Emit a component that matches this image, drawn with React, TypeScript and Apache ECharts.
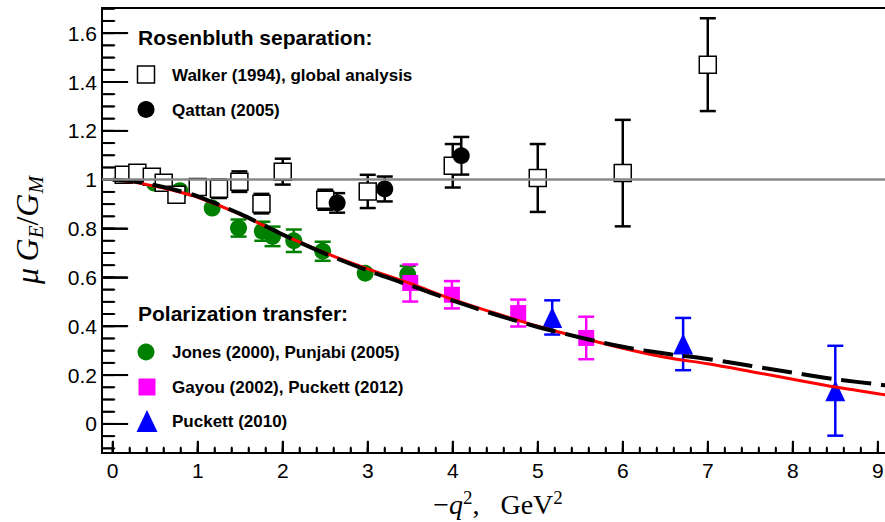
import React, { useEffect, useRef } from "react";
import * as echarts from "echarts";

// ---- axis ranges & ticks ----
const X_MIN = -0.126;
const X_MAX = 9.12;
const Y_MIN = -0.119;
const Y_MAX = 1.703;

const xMajorTicks = [0, 1, 2, 3, 4, 5, 6, 7, 8, 9];
const yMajorTicks = [0, 0.2, 0.4, 0.6, 0.8, 1, 1.2, 1.4, 1.6];
const xMinorTicks: number[] = [];
for (let i = 0; i <= 45; i++) xMinorTicks.push(+(i * 0.2).toFixed(2));
const yMinorTicks: number[] = [];
for (let i = -2; i <= 34; i++) yMinorTicks.push(+(i * 0.05).toFixed(2));

// ---- Rosenbluth separation ----
const walkerX = [0.13, 0.29, 0.46, 0.6, 0.75, 1.0, 1.25, 1.49, 1.75, 2.0, 2.5, 3.0, 4.0, 5.0, 6.0, 7.0];
const walkerY = [1.02, 1.028, 1.012, 0.987, 0.938, 0.97, 0.963, 0.992, 0.902, 1.033, 0.918, 0.952, 1.057, 1.007, 1.027, 1.471];
const walkerErr = [0, 0, 0, 0, 0, 0, 0.038, 0.042, 0.04, 0.053, 0.041, 0.068, 0.089, 0.139, 0.218, 0.19];

const qattanX = [2.64, 3.2, 4.1];
const qattanY = [0.905, 0.962, 1.098];
const qattanErr = [0.04, 0.051, 0.077];

// ---- Polarization transfer ----
const jonesX = [0.49, 0.79, 1.17, 1.48, 1.76, 1.88, 2.13, 2.47, 2.97, 3.47];
const jonesY = [0.986, 0.955, 0.884, 0.802, 0.789, 0.768, 0.75, 0.707, 0.617, 0.612];
const jonesErr = [0, 0, 0, 0.035, 0.039, 0.04, 0.046, 0.039, 0, 0.035];

const gayouX = [3.5, 3.99, 4.77, 5.57];
const gayouY = [0.577, 0.529, 0.454, 0.352];
const gayouErr = [0.076, 0.056, 0.055, 0.087];

const puckettX = [5.17, 6.71, 8.5];
const puckettY = [0.436, 0.327, 0.136];
const puckettErr = [0.07, 0.107, 0.184];

// ---- model curves ----
const curveX = [0, 0.25, 0.5, 0.75, 1, 1.5, 2, 2.5, 3, 3.5, 4, 4.5, 5, 5.5, 6, 6.5, 7, 7.5, 8, 8.5, 9, 9.12];
const redY = [1.0, 0.99, 0.973, 0.953, 0.928, 0.858, 0.775, 0.7, 0.635, 0.575, 0.51, 0.453, 0.4, 0.354, 0.31, 0.273, 0.246, 0.215, 0.183, 0.151, 0.124, 0.117];
const dashY = [1.0, 0.993, 0.977, 0.957, 0.932, 0.86, 0.775, 0.697, 0.628, 0.567, 0.505, 0.448, 0.397, 0.354, 0.316, 0.288, 0.266, 0.238, 0.21, 0.183, 0.162, 0.157];

const GREEN = "#008000";
const MAGENTA = "#ff00ff";
const BLUE = "#0000ff";
const SANS = '"Liberation Sans", Arial, sans-serif';
const SERIF = '"Liberation Serif", "DejaVu Serif", serif';

// anchors a hair inside the frame so no tick item sits on the axis extent itself
const X_EDGE = X_MIN + 0.002;
const Y_EDGE = Y_MIN + 0.001;

function zip3(xs: number[], ys: number[], es: number[]) {
  return xs.map((x, i) => [x, ys[i], es[i]]);
}

function errSeries(xs: number[], ys: number[], es: number[], color: string) {
  return {
    type: "custom",
    silent: true,
    clip: true,
    data: zip3(xs, ys, es),
    renderItem: (_params: any, api: any) => {
      const x = api.value(0);
      const y = api.value(1);
      const e = api.value(2);
      if (!e) return null;
      const top = api.coord([x, y + e]);
      const bot = api.coord([x, y - e]);
      const c = 8;
      const st = { stroke: color, lineWidth: 2.5 };
      return {
        type: "group",
        children: [
          { type: "line", shape: { x1: top[0], y1: top[1], x2: bot[0], y2: bot[1] }, style: st },
          { type: "line", shape: { x1: top[0] - c, y1: top[1], x2: top[0] + c, y2: top[1] }, style: st },
          { type: "line", shape: { x1: bot[0] - c, y1: bot[1], x2: bot[0] + c, y2: bot[1] }, style: st },
        ],
      };
    },
  };
}

// ticks as a custom series built like the error bars: [x, y, length, horizontal?]
function tickSeries(values: number[], horiz: boolean, len: number) {
  return {
    type: "custom",
    silent: true,
    clip: true,
    data: values.map((v) => (horiz ? [X_EDGE, v, len, 1] : [v, Y_EDGE, len, 0])),
    renderItem: (_params: any, api: any) => {
      const p = api.coord([api.value(0), api.value(1)]);
      const l = api.value(2);
      const h = api.value(3) === 1;
      const st = { stroke: "#000", lineWidth: 2 };
      return {
        type: "group",
        children: [
          h
            ? { type: "line", shape: { x1: p[0] - 1, y1: p[1], x2: p[0] - 1 + l, y2: p[1] }, style: st }
            : { type: "line", shape: { x1: p[0], y1: p[1] + 1, x2: p[0], y2: p[1] + 1 - l }, style: st },
        ],
      };
    },
  };
}

// ticks as thin rect symbols, offset so they start at the frame
function tickScatter(values: number[], horiz: boolean, len: number) {
  return {
    type: "scatter",
    silent: true,
    clip: false,
    data: values.map((v) => (horiz ? [X_EDGE, v] : [v, Y_EDGE])),
    symbol: "rect",
    symbolSize: horiz ? [len, 1.6] : [1.6, len],
    symbolOffset: horiz ? [len / 2, 0] : [0, -len / 2],
    itemStyle: { color: "#000", opacity: 1 },
  };
}

function scatter(xs: number[], ys: number[], symbol: string, size: any, itemStyle: any) {
  return {
    type: "scatter",
    data: xs.map((x, i) => [x, ys[i]]),
    symbol,
    symbolSize: size,
    itemStyle: { opacity: 1, ...itemStyle },
    silent: true,
  };
}

export default function App() {
  const ref = useRef<HTMLDivElement>(null);
  useEffect(() => {
    document.body.style.margin = "0";
    if (!ref.current) return;
    const chart = echarts.init(ref.current, null, { renderer: "svg" });

    const legendText = (text: string, x: number, y: number, size: number) => ({
      type: "text",
      x,
      y,
      style: {
        text,
        font: `bold ${size}px ${SANS}`,
        fill: "#000",
        textVerticalAlign: "middle",
      },
    });

    const tickLine = { color: "#000", width: 1.6 };

    const option: any = {
      animation: false,
      backgroundColor: "#fff",
      grid: {
        left: 102,
        top: 8,
        right: -3,
        bottom: 69,
        show: true,
        borderColor: "#000",
        borderWidth: 2,
        containLabel: false,
        outerBoundsMode: "none",
      },
      xAxis: {
        type: "value",
        min: X_MIN,
        max: X_MAX,
        position: "bottom",
        axisLine: { show: true, onZero: false, lineStyle: { color: "#000", width: 2 } },
        axisTick: { show: true, inside: true, length: 12, lineStyle: tickLine, customValues: xMajorTicks },
        splitLine: { show: false },
        axisLabel: {
          show: true,
          customValues: xMajorTicks,
          margin: 7,
          fontSize: 21,
          fontFamily: SANS,
          color: "#000",
        },
      },
      yAxis: {
        type: "value",
        min: Y_MIN,
        max: Y_MAX,
        position: "left",
        axisLine: { show: true, onZero: false, lineStyle: { color: "#000", width: 2 } },
        axisTick: { show: true, inside: true, length: 26, lineStyle: tickLine, customValues: yMajorTicks },
        splitLine: { show: false },
        axisLabel: {
          show: true,
          customValues: yMajorTicks,
          margin: 5,
          fontSize: 21,
          fontFamily: SANS,
          color: "#000",
        },
      },
      series: [
        {
          type: "line",
          data: [],
          silent: true,
          markLine: {
            silent: true,
            symbol: "none",
            label: { show: false },
            lineStyle: { color: "#888", width: 2.5, type: "solid", opacity: 1 },
            data: [{ yAxis: 1 }],
          },
        },
        tickSeries(xMajorTicks, false, 12),
        tickSeries(xMinorTicks, false, 6),
        tickSeries(yMajorTicks, true, 26),
        tickSeries(yMinorTicks, true, 13),
        tickScatter(xMajorTicks, false, 12),
        tickScatter(xMinorTicks, false, 6),
        tickScatter(yMajorTicks, true, 26),
        tickScatter(yMinorTicks, true, 13),
        errSeries(jonesX, jonesY, jonesErr, GREEN),
        scatter(jonesX, jonesY, "circle", 17, { color: GREEN }),
        errSeries(gayouX, gayouY, gayouErr, MAGENTA),
        scatter(gayouX, gayouY, "rect", 16, { color: MAGENTA }),
        errSeries(puckettX, puckettY, puckettErr, BLUE),
        scatter(puckettX, puckettY, "triangle", [20, 21], { color: BLUE }),
        errSeries(walkerX, walkerY, walkerErr, "#000"),
        scatter(walkerX, walkerY, "rect", 17, { color: "#fff", borderColor: "#000", borderWidth: 1.5 }),
        errSeries(qattanX, qattanY, qattanErr, "#000"),
        scatter(qattanX, qattanY, "circle", 17, { color: "#000" }),
        {
          type: "line",
          data: curveX.map((x, i) => [x, redY[i]]),
          smooth: 0.3,
          symbol: "none",
          silent: true,
          lineStyle: { color: "#ff0000", width: 3 },
        },
        {
          type: "line",
          data: curveX.map((x, i) => [x, dashY[i]]),
          smooth: 0.3,
          symbol: "none",
          silent: true,
          lineStyle: { color: "#000", width: 4, type: [30, 10] },
        },
      ],
      graphic: [
        legendText("Rosenbluth separation:", 138, 37, 21),
        {
          type: "rect",
          shape: { x: 137.5, y: 66, width: 17, height: 17 },
          style: { fill: "#fff", stroke: "#000", lineWidth: 1.5 },
        },
        legendText("Walker (1994), global analysis", 172, 75, 17),
        { type: "circle", shape: { cx: 146, cy: 109.5, r: 8.5 }, style: { fill: "#000" } },
        legendText("Qattan (2005)", 172, 110, 17),
        legendText("Polarization transfer:", 138, 313, 21),
        { type: "circle", shape: { cx: 146, cy: 352, r: 8.5 }, style: { fill: GREEN } },
        legendText("Jones (2000), Punjabi (2005)", 172, 352, 17),
        { type: "rect", shape: { x: 138.5, y: 378.5, width: 17, height: 17 }, style: { fill: MAGENTA } },
        legendText("Gayou (2002), Puckett (2012)", 172, 387, 17),
        {
          type: "polygon",
          shape: { points: [[147, 410], [157.5, 432], [136.5, 432]] },
          style: { fill: BLUE },
        },
        legendText("Puckett (2010)", 172, 421, 17),
        {
          type: "text",
          x: 498,
          y: 504,
          style: {
            text: "{n|\u2212}{i|q}{sup|2}{n|, \u2002GeV}{sup|2}",
            textAlign: "center",
            textVerticalAlign: "middle",
            fill: "#000",
            rich: {
              n: { fontFamily: SERIF, fontSize: 28, lineHeight: 32, fill: "#000" },
              i: { fontFamily: SERIF, fontSize: 28, fontStyle: "italic", lineHeight: 32, fill: "#000" },
              sup: { fontFamily: SERIF, fontSize: 19, lineHeight: 19, verticalAlign: "top", fill: "#000" },
            },
          },
        },
        {
          type: "text",
          x: 27,
          y: 230,
          rotation: Math.PI / 2,
          style: {
            text: "{i|\u03bc}{n|\u2009}{i|G}{sub|E}{n|/}{i|G}{sub|M}",
            textAlign: "center",
            textVerticalAlign: "middle",
            fill: "#000",
            rich: {
              n: { fontFamily: SERIF, fontSize: 32, lineHeight: 38, fill: "#000" },
              i: { fontFamily: SERIF, fontSize: 32, fontStyle: "italic", lineHeight: 38, fill: "#000" },
              sub: { fontFamily: SERIF, fontSize: 21, fontStyle: "italic", lineHeight: 21, verticalAlign: "bottom", fill: "#000" },
            },
          },
        },
      ],
    };

    chart.setOption(option);
    return () => chart.dispose();
  }, []);

  return <div ref={ref} style={{ width: 885, height: 522 }} />;
}
